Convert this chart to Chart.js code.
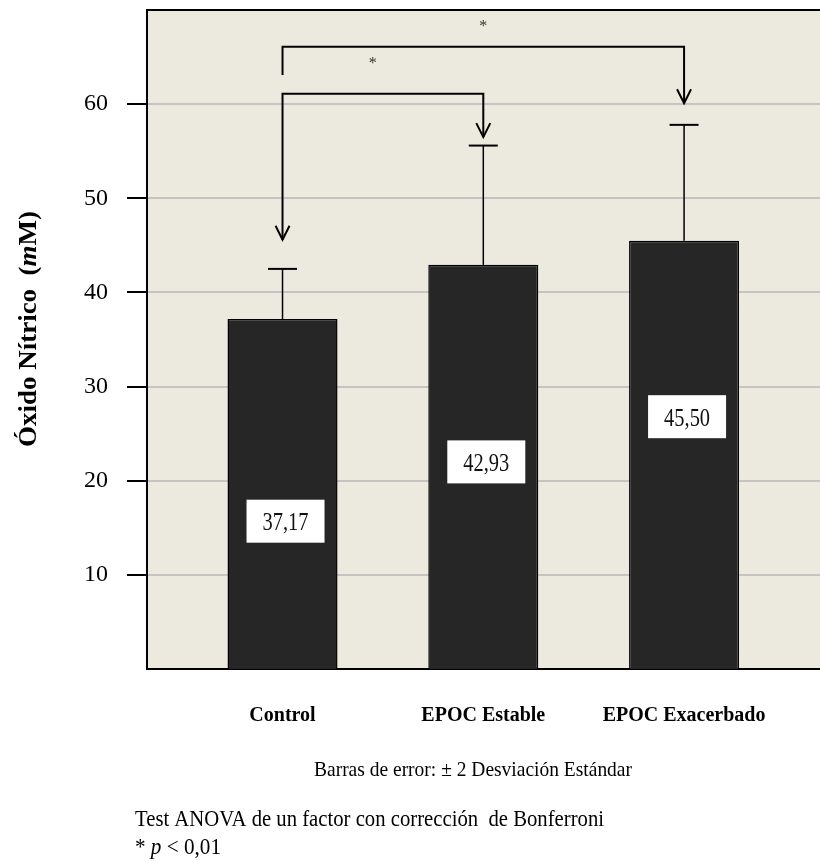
<!DOCTYPE html>
<html>
<head>
<meta charset="utf-8">
<script src="https://cdn.jsdelivr.net/npm/chart.js@4.4.1/dist/chart.umd.min.js"></script>
<style>
    html, body { margin: 0; padding: 0; background: #fff; }
    #wrap { width: 820px; height: 861px; }
</style>
</head>
<body>
<div id="wrap"><canvas id="chart" width="820" height="861"></canvas></div>
<script>
const groups = ['Control', 'EPOC Estable', 'EPOC Exacerbado'];
const means = [37.17, 42.93, 45.50];
const errorTops = [42.5, 55.6, 57.8];      // mean + 2 SD
const valueLabelY = [15.7, 22.0, 26.8];    // where the white value boxes sit
const yTicks = [10, 20, 30, 40, 50, 60];

// significance brackets (group indexes and heights in data units)
const bracketFrom = [0, 0];
const bracketTo = [2, 1];
const bracketLevel = [66.1, 61.1];
const bracketFromEnd = [63.1, 45.6];
const bracketFromArrow = [false, true];
const bracketToEnd = [60.1, 56.5];
const starX = [1, 0.45];
const starY = [68.3, 64.4];

const SERIF = '"Liberation Serif", "Times New Roman", serif';

// draws a line of mixed-style text squeezed to a given width
function drawRich(ctx, parts, x, y, size, width) {
    let natural = 0;
    parts.forEach(p => {
        ctx.font = `${p[1] || ''} ${size}px ${SERIF}`;
        natural += ctx.measureText(p[0]).width;
    });
    const k = width ? width / natural : 1;
    ctx.save();
    ctx.translate(x, y);
    ctx.scale(k, 1);
    let cx = 0;
    parts.forEach(p => {
        ctx.font = `${p[1] || ''} ${size}px ${SERIF}`;
        ctx.fillText(p[0], cx, 0);
        cx += ctx.measureText(p[0]).width;
    });
    ctx.restore();
}

// no extra room for half tick labels, the plot box is fixed
const noPadding = s => {
    s.paddingTop = 0;
    s.paddingBottom = 0;
    s.paddingLeft = 0;
    s.paddingRight = 0;
};

const plotBackground = {
    id: 'plotBackground',
    beforeDraw(chart) {
        const {ctx, chartArea: a} = chart;
        ctx.save();
        ctx.fillStyle = '#eceadf';
        ctx.fillRect(a.left, a.top, a.right - a.left, a.bottom - a.top);
        ctx.restore();
    }
};

const annotations = {
    id: 'annotations',
    afterDatasetsDraw(chart) {
        const {ctx, chartArea: a} = chart;
        const xs = chart.scales.x, ys = chart.scales.y;
        ctx.save();
        ctx.strokeStyle = '#000';
        ctx.lineCap = 'butt';

        // error bars
        means.forEach((m, i) => {
            const x = xs.getPixelForValue(i);
            ctx.lineWidth = 1.5;
            ctx.beginPath();
            ctx.moveTo(x, ys.getPixelForValue(m));
            ctx.lineTo(x, ys.getPixelForValue(errorTops[i]));
            ctx.stroke();
            ctx.lineWidth = 2;
            ctx.beginPath();
            ctx.moveTo(x - 14.5, ys.getPixelForValue(errorTops[i]));
            ctx.lineTo(x + 14.5, ys.getPixelForValue(errorTops[i]));
            ctx.stroke();
        });

        // value boxes
        means.forEach((m, i) => {
            const x = xs.getPixelForValue(i) + 3;
            const y = ys.getPixelForValue(valueLabelY[i]);
            ctx.fillStyle = '#fff';
            ctx.fillRect(x - 39, y - 21.5, 78, 43);
            ctx.fillStyle = '#111';
            ctx.textBaseline = 'alphabetic';
            const txt = m.toFixed(2).replace('.', ',');
            drawRich(ctx, [[txt]], x - 23, y + 9, 26, 46);
        });

        // brackets and arrows
        const arrow = (x, tip) => {
            ctx.beginPath();
            ctx.moveTo(x - 7, tip - 14);
            ctx.lineTo(x, tip);
            ctx.lineTo(x + 7, tip - 14);
            ctx.stroke();
        };
        ctx.lineWidth = 2;
        bracketFrom.forEach((f, i) => {
            const x0 = xs.getPixelForValue(f);
            const x1 = xs.getPixelForValue(bracketTo[i]);
            const yl = ys.getPixelForValue(bracketLevel[i]);
            const y0 = ys.getPixelForValue(bracketFromEnd[i]);
            const y1 = ys.getPixelForValue(bracketToEnd[i]);
            ctx.beginPath();
            ctx.moveTo(x0, y0);
            ctx.lineTo(x0, yl);
            ctx.lineTo(x1, yl);
            ctx.lineTo(x1, y1);
            ctx.stroke();
            arrow(x1, y1);
            if (bracketFromArrow[i]) arrow(x0, y0);

            ctx.fillStyle = '#333';
            ctx.font = `16px ${SERIF}`;
            ctx.textAlign = 'center';
            ctx.textBaseline = 'middle';
            ctx.fillText('*', xs.getPixelForValue(starX[i]), ys.getPixelForValue(starY[i]) + 1);
            ctx.textAlign = 'left';
        });

        // top border of the plot
        ctx.lineWidth = 2;
        ctx.beginPath();
        ctx.moveTo(a.left, a.top);
        ctx.lineTo(a.right, a.top);
        ctx.stroke();
        ctx.restore();
    },
    afterDraw(chart) {
        const {ctx} = chart;
        ctx.save();
        ctx.fillStyle = '#000';
        ctx.textBaseline = 'alphabetic';
        ctx.textAlign = 'left';

        // y axis title
        ctx.save();
        ctx.translate(36, 447);
        ctx.rotate(-Math.PI / 2);
        drawRich(ctx, [['Óxido Nítrico  (', 'bold'], ['m', 'italic bold'], ['M)', 'bold']], 0, 0, 25, 236);
        ctx.restore();

        drawRich(ctx, [['Barras de error: ± 2 Desviación Estándar']], 314, 776, 22, 318);
        drawRich(ctx, [['Test ANOVA de un factor con corrección  de Bonferroni']], 135, 826, 24, 469);
        drawRich(ctx, [['* '], ['p', 'italic'], [' < 0,01']], 135, 854, 24, 86);
        ctx.restore();
    }
};

new Chart(document.getElementById('chart'), {
    type: 'bar',
    data: {
        datasets: [{
            data: means.map((v, i) => ({x: i, y: v})),
            backgroundColor: '#262626',
            borderColor: '#000',
            borderWidth: 1.5,
            barPercentage: 0.548,
            categoryPercentage: 1
        }]
    },
    options: {
        responsive: false,
        animation: false,
        layout: {padding: {top: 10, left: 0, right: 0, bottom: 0}},
        plugins: {legend: {display: false}, tooltip: {enabled: false}},
        scales: {
            x: {
                type: 'linear',
                offset: false,
                min: -0.675,
                max: 2.677,
                afterBuildTicks: s => { s.ticks = groups.map((g, i) => ({value: i})); },
                afterFit: s => { s.height = 192; noPadding(s); },
                ticks: {
                    callback: v => groups[v],
                    font: {family: SERIF, weight: 'bold', size: 20},
                    color: '#000',
                    padding: 35,
                    maxRotation: 0,
                    autoSkip: false
                },
                grid: {display: false, drawTicks: false},
                border: {color: '#000', width: 2}
            },
            y: {
                min: 0,
                max: 70,
                afterBuildTicks: s => { s.ticks = yTicks.map(v => ({value: v})); },
                afterFit: s => { s.width = 147; noPadding(s); },
                ticks: {
                    font: {family: SERIF, size: 24},
                    color: '#000',
                    padding: 19
                },
                grid: {color: '#c4c4c4', lineWidth: 2, tickColor: '#000', tickLength: 20, tickWidth: 2},
                border: {color: '#000', width: 2}
            }
        }
    },
    plugins: [plotBackground, annotations]
});
</script>
</body>
</html>
